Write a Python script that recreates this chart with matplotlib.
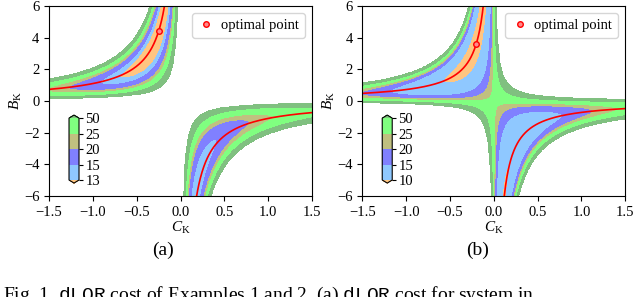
import numpy as np
import matplotlib
matplotlib.use('Agg')
import matplotlib.pyplot as plt
from matplotlib.colors import ListedColormap, BoundaryNorm

plt.rcParams['font.family'] = 'serif'
plt.rcParams['font.serif'] = ['Liberation Serif', 'DejaVu Serif']
plt.rcParams['mathtext.fontset'] = 'custom'
plt.rcParams['mathtext.rm'] = 'Liberation Serif'
plt.rcParams['mathtext.it'] = 'Liberation Serif:italic'
plt.rcParams['mathtext.tt'] = 'Liberation Mono'

# axis ranges and ticks
ck_range = [-1.5, 1.5]
bk_range = [-6.0, 6.0]
x_ticks = [-1.5, -1.0, -0.5, 0.0, 0.5, 1.0, 1.5]
y_ticks = [-6, -4, -2, 0, 2, 4, 6]

# contour levels of the two panels
levels_a = [13, 15, 20, 25, 50]
levels_b = [10, 15, 20, 25, 50]
# under, four bands, over
band_colors = ['#ffc580', '#8fc8ff', '#8080ff', '#c0c080', '#80ff80', '#80c080']

# scalar plant x+ = A x + u, y = x ; controller xi+ = AK xi + B_K y, u = C_K xi
# X0 is the covariance of the initial state [x0, xi0]
sys_a = dict(A=1.1, AK=-1.0, Q=1.0, R=0.2, X0=[[4.87, 1.49], [1.49, 5.62]])
sys_b = dict(A=0.9, AK=-0.8, Q=1.0, R=0.1, X0=[[5.03, 1.25], [1.25, 5.15]])

# optimal point (C_K, B_K) of each example
opt_a = (-0.25, 4.4)
opt_b = (-0.2, 3.6)

caption = (r'Fig. 1. $\mathtt{dLQR}$ cost of Examples 1 and 2. '
           r'(a) $\mathtt{dLQR}$ cost for system in')


def dlqr_cost(ck, bk, A, AK, Q, R, X0):
    """cost tr(P X0), P from the closed-loop Lyapunov equation, nan if unstable"""
    g = ck.ravel()
    b = bk.ravel()
    tr = A + AK
    det = A * AK - b * g
    stable = (np.abs(det) < 1) & (np.abs(tr) < 1 + det)
    g = g[stable]
    b = b[stable]
    n = g.size
    L = np.zeros((n, 3, 3))
    L[:, 0, 0] = 1 - A ** 2
    L[:, 0, 1] = -2 * A * b
    L[:, 0, 2] = -b ** 2
    L[:, 1, 0] = -A * g
    L[:, 1, 1] = 1 - (A * AK + b * g)
    L[:, 1, 2] = -b * AK
    L[:, 2, 0] = -g ** 2
    L[:, 2, 1] = -2 * g * AK
    L[:, 2, 2] = 1 - AK ** 2
    rhs = np.stack([np.full(n, Q), np.zeros(n), R * g ** 2], axis=1)
    p = np.linalg.solve(L, rhs[..., None])[..., 0]
    J = np.full(ck.size, np.nan)
    J[stable] = X0[0][0] * p[:, 0] + 2 * X0[0][1] * p[:, 1] + X0[1][1] * p[:, 2]
    return J.reshape(ck.shape)


ck = np.linspace(ck_range[0], ck_range[1], 601)
bk = np.linspace(bk_range[0], bk_range[1], 601)
CK, BK = np.meshgrid(ck, bk)

cmap = ListedColormap(band_colors[1:-1])
cmap.set_under(band_colors[0])
cmap.set_over(band_colors[-1])

fig = plt.figure(figsize=(6.4, 2.97), dpi=100)
ax_a = fig.add_axes([0.0766, 0.34, 0.411, 0.64])
ax_b = fig.add_axes([0.566, 0.34, 0.411, 0.64])

for ax, system, levels, opt in [(ax_a, sys_a, levels_a, opt_a),
                                (ax_b, sys_b, levels_b, opt_b)]:
    J = dlqr_cost(CK, BK, **system)
    norm = BoundaryNorm(levels, cmap.N)
    cs = ax.contourf(CK, BK, J, levels=levels, cmap=cmap, norm=norm, extend='both')

    # curve of controllers similar to the optimal one: C_K * B_K = const
    prod = opt[0] * opt[1]
    for side in (ck[ck < 0], ck[ck > 0]):
        curve = prod / side
        curve[np.abs(curve) > 6.2] = np.nan
        ax.plot(side, curve, color='red', lw=1.2)
    ax.plot(opt[0], opt[1], 'o', ms=4, mec='red', mfc='#ff8a8a', mew=1.0,
            label='optimal point')

    ax.set_xlim(ck_range)
    ax.set_ylim(bk_range)
    ax.set_xticks(x_ticks)
    ax.set_yticks(y_ticks)
    ax.tick_params(labelsize=10.5, length=3.5)
    ax.set_xlabel(r'$C_\mathrm{K}$', fontsize=11, labelpad=1)
    ax.set_ylabel(r'$B_\mathrm{K}$', fontsize=11, labelpad=0)
    ax.legend(loc='upper right', fontsize=10.5, handletextpad=0.4,
              borderpad=0.4, handlelength=1.2)

    cax = ax.inset_axes([0.076, 0.068, 0.038, 0.358])
    cb = fig.colorbar(cs, cax=cax, ticks=levels, extendfrac=0.05)
    cb.ax.tick_params(labelsize=10.5, length=3, pad=1.5)
    cb.outline.set_linewidth(0.8)

fig.text(0.254, 0.141, '(a)', fontsize=14, ha='center', va='baseline')
fig.text(0.746, 0.141, '(b)', fontsize=14, ha='center', va='baseline')
fig.text(0.005, -0.0084, caption, fontsize=14, ha='left', va='baseline')

fig.savefig('out.png', dpi=100)
